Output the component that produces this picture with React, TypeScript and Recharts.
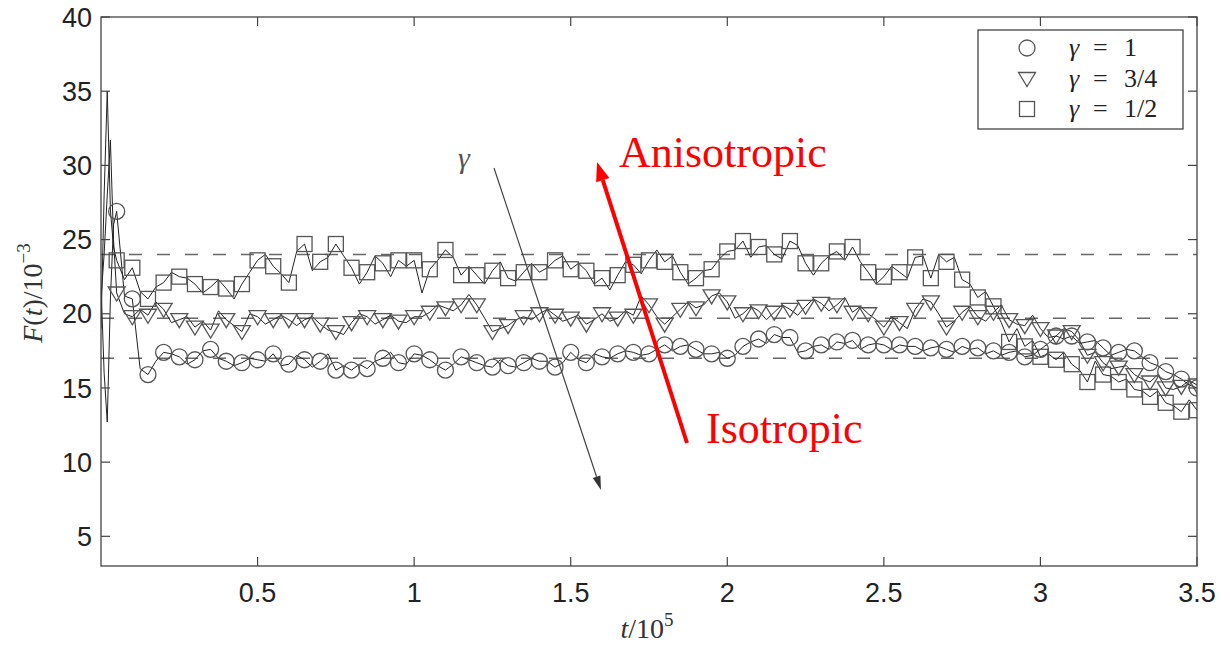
import { Line, LineChart, ReferenceLine, XAxis, YAxis } from "recharts"

// sample times (t / 10^5): a few early samples for the start-up transient, then a 0.025 grid
const earlyTimes = [0, 0.01, 0.02, 0.03, 0.04, 0.05]
const gridTimes = Array.from({ length: 138 }, (_, i) => Number((0.075 + i * 0.025).toFixed(3)))
const times = [...earlyTimes, ...gridTimes]

// F(t) / 10^-3, gamma = 1/2 (squares)
const gammaHalf = [
    19, 28, 35, 27, 24.5, 23.6,
    22.3, 23.1, 21.5, 21.0, 21.8, 22.1, 22.8, 22.5, 22.4, 22.0, 21.4, 21.8, 22.3, 21.7, 21.0, 22.0, 22.8, 23.6,
    24.0, 23.2, 22.7, 22.1, 24.2, 24.7, 22.9, 23.5, 23.8, 24.7, 23.9, 23.1, 22.0, 22.8, 23.9, 23.4, 22.5, 23.6, 23.2, 23.6,
    21.4, 23.0, 23.6, 24.3, 23.8, 22.6, 23.2, 22.6, 22.0, 22.9, 23.5, 22.4, 22.2, 22.8, 23.4, 22.8, 23.1, 23.6, 23.9, 23.0,
    23.4, 22.9, 22.0, 22.4, 21.6, 22.6, 23.5, 23.3, 22.7, 23.6, 24.3, 23.5, 23.9, 22.8, 22.0, 22.4, 22.9, 23.0, 23.7, 24.2,
    24.3, 24.9, 23.8, 24.5, 24.6, 24.0, 23.7, 24.9, 24.6, 23.4, 22.6, 23.4, 23.9, 24.2, 23.6, 24.5, 23.5, 22.8, 22.0, 22.5,
    23.2, 22.8, 22.4, 23.8, 23.9, 22.4, 24.0, 23.5, 23.8, 22.3, 22.0, 21.1, 21.5, 20.5, 19.4, 18.1, 19.0, 17.8, 18.2, 17.1,
    17.3, 16.9, 17.4, 16.6, 16.2, 15.4, 16.8, 15.9, 15.8, 15.4, 15.6, 14.9, 14.8, 14.4, 14.8, 14.0, 13.8, 13.4, 14.2, 13.5,
]

// gamma = 3/4 (triangles)
const gammaThreeQuarter = [
    21, 24, 28, 31.7, 25, 21.4,
    20.0, 19.8, 20.3, 19.9, 20.8, 20.3, 19.4, 19.6, 19.8, 19.1, 19.5, 18.9, 20.2, 19.6, 19.2, 18.8, 20.0, 19.8,
    19.3, 19.6, 19.9, 19.6, 19.2, 19.6, 19.8, 19.3, 18.9, 18.8, 18.6, 19.4, 20.0, 19.8, 19.3, 19.6, 19.9, 19.5, 19.4, 19.8,
    19.8, 20.1, 20.6, 20.4, 20.2, 20.6, 21.3, 20.6, 19.7, 18.8, 19.0, 19.2, 19.6, 19.8, 19.6, 20.0, 20.3, 19.9, 19.5, 19.7,
    19.9, 19.3, 19.6, 20.0, 19.5, 19.7, 20.2, 19.9, 21.2, 20.6, 19.8, 19.3, 19.8, 20.3, 20.8, 20.4, 20.6, 21.2, 21.4, 20.8,
    19.7, 20.0, 20.5, 20.2, 19.6, 20.1, 20.6, 20.3, 19.9, 20.5, 21.0, 20.7, 20.2, 20.6, 21.1, 20.1, 20.5, 20.0, 19.6, 19.1,
    19.8, 19.4, 19.0, 20.3, 21.0, 20.8, 20.0, 19.1, 19.5, 20.1, 20.5, 19.8, 19.5, 20.1, 20.6, 19.6, 19.3, 19.2, 19.9, 19.0,
    18.4, 18.5, 19.0, 18.8, 18.2, 17.2, 17.4, 16.7, 16.3, 16.4, 16.5, 15.9, 15.6, 15.4, 15.9, 15.0, 14.9, 15.1, 15.5, 15.2,
]

// gamma = 1 (circles)
const gammaOne = [
    22, 16, 12.7, 21, 26, 26.9,
    21.2, 21.0, 16.3, 15.9, 16.8, 17.4, 17.3, 17.1, 16.6, 16.9, 17.5, 17.6, 17.0, 16.8, 16.5, 16.7, 17.0, 16.9,
    16.8, 17.3, 16.5, 16.6, 17.2, 16.9, 16.4, 16.8, 17.3, 16.2, 16.5, 16.2, 16.6, 16.3, 16.8, 17.0, 17.4, 16.7, 16.6, 17.3,
    17.2, 16.9, 16.5, 16.2, 16.6, 17.1, 16.9, 16.7, 16.5, 16.4, 16.9, 16.5, 16.4, 16.7, 17.0, 16.8, 16.8, 16.4, 16.7, 17.4,
    16.9, 16.7, 17.3, 17.1, 17.0, 17.3, 17.5, 17.4, 17.2, 17.3, 17.6, 17.9, 17.5, 17.8, 17.9, 17.6, 17.3, 17.3, 17.4, 17.0,
    17.2, 17.8, 18.1, 18.3, 18.0, 18.6, 18.4, 18.4, 17.4, 17.5, 17.8, 17.9, 17.6, 18.1, 18.0, 18.2, 17.6, 17.9, 18.0, 17.9,
    17.6, 17.9, 17.8, 17.8, 17.5, 17.7, 17.8, 17.6, 17.4, 17.8, 17.6, 17.7, 17.3, 17.5, 17.2, 17.4, 17.5, 17.1, 17.2, 17.6,
    18.0, 18.5, 18.3, 18.5, 18.0, 18.1, 18.2, 17.7, 17.2, 17.4, 17.6, 17.5, 17.1, 16.7, 16.5, 16.1, 15.9, 15.6, 15.2, 15.0,
]

// long-time averages (dashed lines)
const meanLevels = [24, 19.7, 17]

const xTicks = [0.5, 1, 1.5, 2, 2.5, 3, 3.5]
const yTicks = [5, 10, 15, 20, 25, 30, 35, 40]
const legendItems = [
    { kind: "circle", value: "1" },
    { kind: "triangle", value: "3/4" },
    { kind: "square", value: "1/2" },
]

const data = times.map((t, i) => ({
    t,
    half: gammaHalf[i],
    threeQuarter: gammaThreeQuarter[i],
    one: gammaOne[i],
}))

const W = 1221
const H = 645
const PLOT = { left: 101, right: 1197, top: 17, bottom: 566 }
const Y_AXIS_W = 60
const X_AXIS_H = 60
const AXIS = "#444"
const MARK = "#555"
const TICK_LEN = 9
const SANS = "'Liberation Sans', Arial, sans-serif"
const SERIF = "'Liberation Serif', 'Times New Roman', serif"

const Marker = ({ kind, cx, cy }: { kind: string, cx: number, cy: number }) => {
    if (kind === "circle") return <circle cx={cx} cy={cy} r={8} fill="none" stroke={MARK} strokeWidth={1.3} />
    if (kind === "triangle") {
        return <polygon points={`${cx - 8.5},${cy - 6} ${cx + 8.5},${cy - 6} ${cx},${cy + 8}`} fill="none" stroke={MARK} strokeWidth={1.3} />
    }
    return <rect x={cx - 7.5} y={cy - 7.5} width={15} height={15} fill="none" stroke={MARK} strokeWidth={1.3} />
}

// markers sit on every 0.05 of t, the line goes through all samples
const makeDot = (kind: string) => (props: any) => {
    const { cx, cy, index, payload } = props
    const t = payload.t
    const show = t > 0.001 && Math.abs(t * 20 - Math.round(t * 20)) < 1e-6
    if (!show || cx == null || cy == null) return <g key={`${kind}-${index}`} />
    return <g key={`${kind}-${index}`}><Marker kind={kind} cx={cx} cy={cy} /></g>
}

const XTick = (props: any) => {
    const { x, payload } = props
    return (
        <g>
            <line x1={x} y1={PLOT.bottom} x2={x} y2={PLOT.bottom - TICK_LEN} stroke={AXIS} strokeWidth={1.2} />
            <line x1={x} y1={PLOT.top} x2={x} y2={PLOT.top + TICK_LEN} stroke={AXIS} strokeWidth={1.2} />
            <text x={x} y={PLOT.bottom + 36} textAnchor="middle" fontFamily={SANS} fontSize={27} fill="#222">{payload.value}</text>
        </g>
    )
}

const YTick = (props: any) => {
    const { y, payload } = props
    return (
        <g>
            <line x1={PLOT.left} y1={y} x2={PLOT.left + TICK_LEN} y2={y} stroke={AXIS} strokeWidth={1.2} />
            <line x1={PLOT.right} y1={y} x2={PLOT.right - TICK_LEN} y2={y} stroke={AXIS} strokeWidth={1.2} />
            <text x={PLOT.left - 9} y={y} dy="0.36em" textAnchor="end" fontFamily={SANS} fontSize={27} fill="#222">{payload.value}</text>
        </g>
    )
}

const arrowHead = (x1: number, y1: number, x2: number, y2: number, len: number, half: number) => {
    const dx = x2 - x1
    const dy = y2 - y1
    const d = Math.hypot(dx, dy)
    const ux = dx / d
    const uy = dy / d
    const bx = x2 - ux * len
    const by = y2 - uy * len
    return {
        base: [bx, by],
        points: `${x2},${y2} ${bx - uy * half},${by + ux * half} ${bx + uy * half},${by - ux * half}`,
    }
}

const Annotations = () => {
    const red = arrowHead(687, 443, 597, 162, 19, 7)
    const blk = arrowHead(494, 168, 601, 490, 14, 4)
    return (
        <svg width={W} height={H} style={{ position: "absolute", left: 0, top: 0, pointerEvents: "none" }}>
            <rect x={PLOT.left} y={PLOT.top} width={PLOT.right - PLOT.left} height={PLOT.bottom - PLOT.top} fill="none" stroke={AXIS} strokeWidth={1.3} />

            {/* axis titles */}
            <text x={42} y={293} transform="rotate(-90 42 293)" textAnchor="middle" fontFamily={SERIF} fontSize={28} fill="#333">
                <tspan fontStyle="italic">F</tspan>(<tspan fontStyle="italic">t</tspan>)/10<tspan dy={-12} fontSize={19}>−3</tspan>
            </text>
            <text x={647} y={638} textAnchor="middle" fontFamily={SERIF} fontSize={28} fill="#333">
                <tspan fontStyle="italic">t</tspan>/10<tspan dy={-12} fontSize={19}>5</tspan>
            </text>

            {/* gamma arrow */}
            <text x={458} y={168} fontFamily={SERIF} fontStyle="italic" fontSize={30} fill="#555">γ</text>
            <line x1={494} y1={168} x2={blk.base[0]} y2={blk.base[1]} stroke="#444" strokeWidth={1.2} />
            <polygon points={blk.points} fill="#333" />

            {/* isotropic -> anisotropic */}
            <line x1={687} y1={443} x2={red.base[0]} y2={red.base[1]} stroke="#f00" strokeWidth={4} />
            <polygon points={red.points} fill="#f00" />
            <text x={619} y={167} fontFamily={SERIF} fontSize={44} fill="#f00">Anisotropic</text>
            <text x={706} y={443} fontFamily={SERIF} fontSize={44} fill="#f00">Isotropic</text>

            {/* legend */}
            <rect x={978} y={30} width={205} height={99} fill="#fff" stroke={AXIS} strokeWidth={1.3} />
            {legendItems.map((item, i) => {
                const cy = 48 + i * 30.5
                return (
                    <g key={item.kind}>
                        <Marker kind={item.kind} cx={1027} cy={cy} />
                        <text x={1069} y={cy + 8} fontFamily={SERIF} fontSize={26} fill="#222">
                            <tspan fontStyle="italic">γ</tspan>
                            <tspan x={1093}>=</tspan>
                            <tspan x={1124}>{item.value}</tspan>
                        </text>
                    </g>
                )
            })}
        </svg>
    )
}

const App = () => {
    return (
        <div style={{ position: "absolute", left: 0, top: 0, width: W, height: H, background: "#fff" }}>
            <LineChart
                width={W}
                height={H}
                data={data}
                margin={{
                    top: PLOT.top,
                    right: W - PLOT.right,
                    bottom: H - PLOT.bottom - X_AXIS_H,
                    left: PLOT.left - Y_AXIS_W,
                }}
            >
                <XAxis
                    dataKey="t"
                    type="number"
                    domain={[0, 3.5]}
                    ticks={xTicks}
                    interval={0}
                    height={X_AXIS_H}
                    tickSize={0}
                    tickMargin={0}
                    tickLine={false}
                    axisLine={false}
                    tick={<XTick />}
                    allowDataOverflow
                />
                <YAxis
                    type="number"
                    domain={[3, 40]}
                    ticks={yTicks}
                    interval={0}
                    width={Y_AXIS_W}
                    tickSize={0}
                    tickMargin={0}
                    tickLine={false}
                    axisLine={false}
                    tick={<YTick />}
                    allowDataOverflow
                />
                {meanLevels.map((v) => (
                    <ReferenceLine key={v} y={v} stroke="#666" strokeWidth={1.5} strokeDasharray="13 15" />
                ))}
                <Line type="linear" dataKey="half" stroke="#222" strokeWidth={1} dot={makeDot("square")} activeDot={false} isAnimationActive={false} />
                <Line type="linear" dataKey="threeQuarter" stroke="#222" strokeWidth={1} dot={makeDot("triangle")} activeDot={false} isAnimationActive={false} />
                <Line type="linear" dataKey="one" stroke="#222" strokeWidth={1} dot={makeDot("circle")} activeDot={false} isAnimationActive={false} />
            </LineChart>
            <Annotations />
        </div>
    )
}

export default App
